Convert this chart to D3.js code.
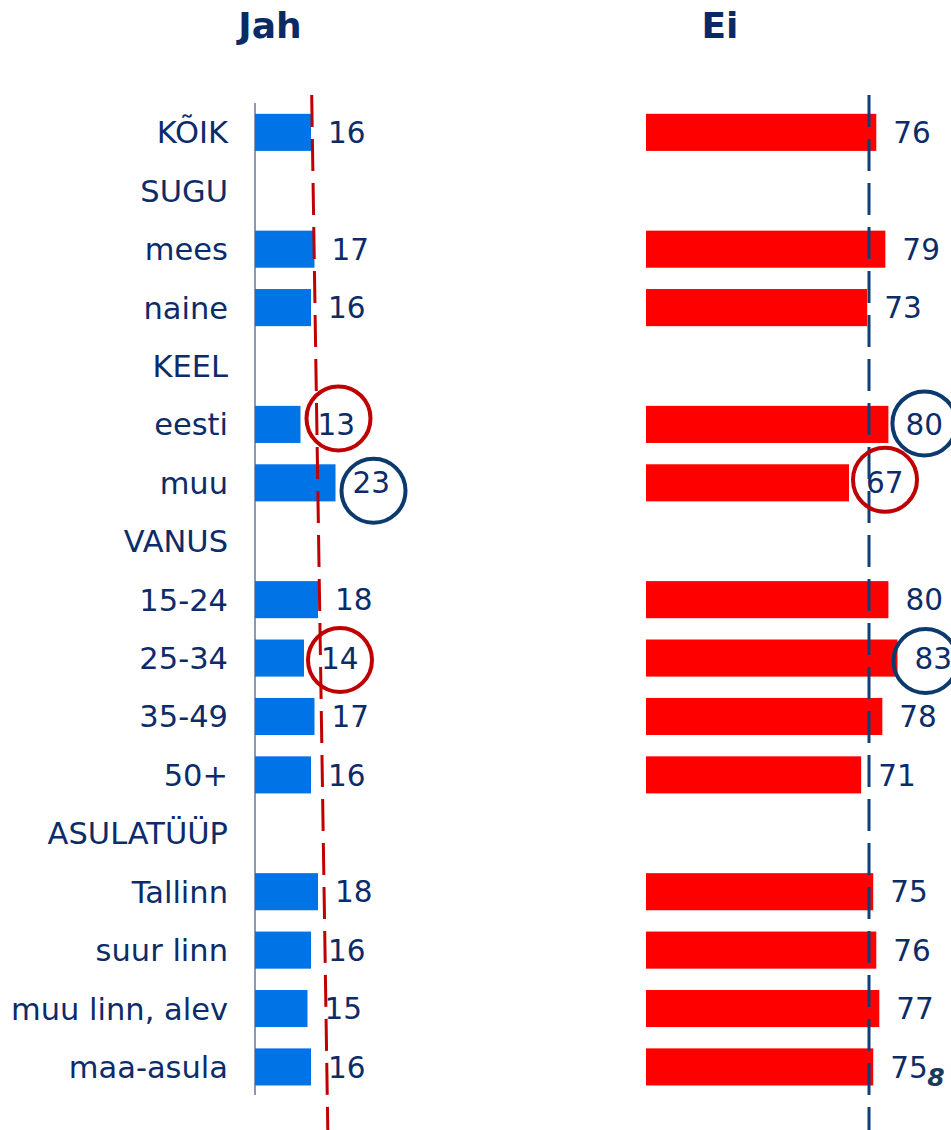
<!DOCTYPE html>
<html><head><meta charset="utf-8">
<script src="https://cdn.jsdelivr.net/npm/d3@7"></script>
<style>html,body{margin:0;padding:0;background:#fff;}svg{display:block;}</style>
</head><body>
<script>
const categories = ["KÕIK","SUGU","mees","naine","KEEL","eesti","muu","VANUS","15-24","25-34","35-49","50+","ASULATÜÜP","Tallinn","suur linn","muu linn, alev","maa-asula"];
const jahValues = [16,null,17,16,null,13,23,null,18,14,17,16,null,18,16,15,16];
const eiValues  = [76,null,79,73,null,80,67,null,80,83,78,71,null,75,76,77,75];
const panelTitles = ["Jah","Ei"];
const jahRefLine = [16.2, 20.8];   // reference line value at top / bottom
const eiRefLine = [73.6, 73.6];
const highlights = [
  {panel:0, cat:"eesti", kind:"low"},
  {panel:0, cat:"muu", kind:"high"},
  {panel:0, cat:"25-34", kind:"low"},
  {panel:1, cat:"eesti", kind:"high"},
  {panel:1, cat:"muu", kind:"low"},
  {panel:1, cat:"25-34", kind:"high"}
];
const pageNumber = "8";

const W = 951, H = 1130;
const navy = "#0c2c69", blue = "#0073e6", red = "#ff0000", dRed = "#c00000", dNavy = "#0e3f78";
const svg = d3.select("body").append("svg").attr("width", W).attr("height", H);

const y = d3.scaleBand().domain(categories).range([103.3, 1096]).paddingInner(0.365).paddingOuter(0.18);
const xJ = d3.scaleLinear().domain([0,100]).range([255, 605]);
const xE = d3.scaleLinear().domain([0,100]).range([646, 949]);
const scales = [xJ, xE];
const values = [jahValues, eiValues];
const colors = [blue, red];
const font = "'DejaVu Sans', Verdana, sans-serif";
const cy = c => y(c) + y.bandwidth()/2;

// titles
svg.selectAll("text.title").data(panelTitles).join("text")
  .attr("x", (d,i)=> i===0 ? 270 : 720).attr("y", 38)
  .attr("text-anchor","middle").attr("font-family",font).attr("font-weight","bold")
  .attr("font-size",36).attr("fill","#0a2a66").text(d=>d);

// category labels
svg.selectAll("text.cat").data(categories).join("text")
  .attr("x", 228).attr("y", d=>cy(d)).attr("dy","0.36em")
  .attr("text-anchor","end").attr("font-family",font).attr("font-size",30.5)
  .attr("fill",navy).text(d=>d);

// axis line for left panel
svg.append("line").attr("x1",255).attr("x2",255).attr("y1",103).attr("y2",1095)
  .attr("stroke","#8e99b0").attr("stroke-width",2);

[0,1].forEach(p=>{
  const x = scales[p];
  const rows = categories.map((c,i)=>({c, v: values[p][i]})).filter(d=>d.v!=null);
  const g = svg.append("g");
  g.selectAll("rect").data(rows).join("rect")
    .attr("x", x(0)).attr("y", d=>y(d.c)).attr("width", d=>x(d.v)-x(0))
    .attr("height", y.bandwidth()).attr("fill", colors[p]);
  g.selectAll("text").data(rows).join("text")
    .attr("x", d=>x(d.v)+17).attr("y", d=>cy(d.c)).attr("dy","0.36em")
    .attr("font-family",font).attr("font-size",29.5).attr("fill",navy).text(d=>d.v);
});

// reference dashed lines
svg.append("line")
  .attr("x1", xJ(jahRefLine[0])).attr("y1", 95).attr("x2", xJ(jahRefLine[1])).attr("y2", 1130)
  .attr("stroke", dRed).attr("stroke-width",3).attr("stroke-dasharray","32,12");
svg.append("line")
  .attr("x1", xE(eiRefLine[0])).attr("y1", 95).attr("x2", xE(eiRefLine[1])).attr("y2", 1130)
  .attr("stroke", dNavy).attr("stroke-width",3).attr("stroke-dasharray","32,12");

// highlight circles
const offs = {"0|eesti":[2,-6], "0|muu":[2,8], "1|muu":[0,-3], "1|eesti":[0,-1], "0|25-34":[0,2], "1|25-34":[-8,3]};
svg.selectAll("circle.hl").data(highlights).join("circle")
  .attr("cx", d=>{const v = values[d.panel][categories.indexOf(d.cat)]; const o = offs[d.panel+"|"+d.cat]||[0,0]; return scales[d.panel](v)+17+19+o[0];})
  .attr("cy", d=>cy(d.cat) + (offs[d.panel+"|"+d.cat]||[0,0])[1])
  .attr("r", 32).attr("fill","none")
  .attr("stroke", d=>d.kind==="low" ? dRed : "#0d3a6e").attr("stroke-width",4);

// page number
svg.append("text").attr("x",936).attr("y",1086).attr("text-anchor","middle")
  .attr("font-family",font).attr("font-weight","bold").attr("font-style","italic")
  .attr("font-size",25).attr("fill","#1a3a5e").text(pageNumber);
</script>
</body></html>
